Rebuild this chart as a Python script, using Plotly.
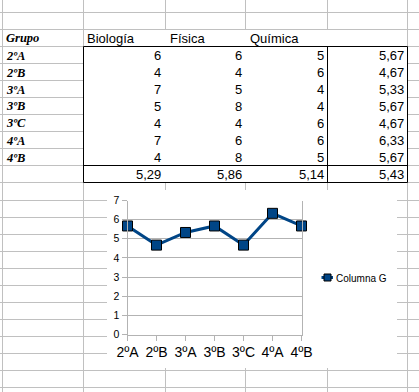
import plotly.graph_objects as go

# ---------------- data ----------------
grupos = ["2ºA", "2ºB", "3ºA", "3ºB", "3ºC", "4ºA", "4ºB"]
asignaturas = ["Biología", "Física", "Química"]
biologia = [6, 4, 7, 5, 4, 7, 4]
fisica = [6, 4, 5, 8, 4, 6, 8]
quimica = [5, 6, 4, 4, 6, 6, 5]
promedio_grupo = [5.67, 4.67, 5.33, 5.67, 4.67, 6.33, 5.67]
promedio_asig = [5.29, 5.86, 5.14]
promedio_total = 5.43
serie_nombre = "Columna G"
y_ticks = [0, 1, 2, 3, 4, 5, 6, 7]

# ---------------- geometry helpers ----------------
W, H = 419, 392
def px(x):
    return x / W
def py(y):
    return 1 - y / H

SANS = "Liberation Sans"
SERIF = "Liberation Serif"
GRID = "#c0c0c0"
BLUE = "#004586"

col_lines = [2.5, 83.5, 165.5, 245.5, 327.5, 407.5]
row_lines = [round(12.3 + 17.02 * k) + 0.5 for k in range(24)]

shapes = []
def line(x0, y0, x1, y1, color, width=1):
    shapes.append(dict(type="line", xref="paper", yref="paper",
                       x0=px(x0), y0=py(y0), x1=px(x1), y1=py(y1),
                       line=dict(color=color, width=width), layer="below"))
def rect(x0, y0, x1, y1, fill, lc=None, lw=0):
    shapes.append(dict(type="rect", xref="paper", yref="paper",
                       x0=px(x0), y0=py(y0), x1=px(x1), y1=py(y1),
                       fillcolor=fill, line=dict(color=lc or fill, width=lw),
                       layer="below"))

# spreadsheet grid
for x in col_lines:
    line(x, 0, x, H, GRID)
for y in row_lines:
    line(0, y, W, y, GRID)

# header row (no inner vertical lines) and table body
rect(84, 30, 407, 46, "white")
rect(83.5, 46.5, 407.5, 182.5, "white")
# table borders
line(83.5, 46.5, 407.5, 46.5, "black")
line(83.5, 182.5, 407.5, 182.5, "black")
line(83.5, 46.5, 83.5, 182.5, "black")
line(407.5, 46.5, 407.5, 182.5, "black")
line(327.5, 46.5, 327.5, 182.5, "black")
line(83.5, 165.5, 407.5, 165.5, "black")

# chart object background
rect(107, 190, 397, 368, "white")

annotations = []
def text(s, x, y, anchor="left", family=SANS, size=13):
    annotations.append(dict(text=s, xref="paper", yref="paper",
                            x=px(x), y=py(y), xanchor=anchor, yanchor="middle",
                            showarrow=False, font=dict(family=family, size=size, color="black")))

def fmt(v):
    if isinstance(v, int):
        return str(v)
    return f"{v:.2f}".replace(".", ",")

row_c = [(row_lines[k] + row_lines[k + 1]) / 2 + 0.5 for k in range(len(row_lines) - 1)]

# header row
text("<b><i>Grupo</i></b>", 4, row_c[1], family=SERIF, size=12.5)
col_left = [84.5, 167.5, 247.5]
for i, a in enumerate(asignaturas):
    text(a, col_left[i], row_c[1])

col_right = [163, 243.5, 325.5, 406]
for i, g in enumerate(grupos):
    yc = row_c[2 + i]
    text(f"<b><i>{g}</i></b>", 4, yc, family=SERIF, size=12.5)
    for j, serie in enumerate([biologia, fisica, quimica]):
        text(fmt(serie[i]), col_right[j], yc, anchor="right")
    text(fmt(promedio_grupo[i]), col_right[3], yc, anchor="right")

yc = row_c[9]
for j, v in enumerate(promedio_asig):
    text(fmt(v), col_right[j], yc, anchor="right")
text(fmt(promedio_total), col_right[3], yc, anchor="right")

# custom legend key
line(321.5, 277.5, 333, 277.5, BLUE, 3)
rect(324, 274, 331, 281, BLUE, "black", 1)
text(serie_nombre, 334, 278, size=10)

fig = go.Figure()
fig.add_trace(go.Scatter(
    x=grupos, y=promedio_grupo, name=serie_nombre,
    mode="lines+markers",
    line=dict(color=BLUE, width=3),
    marker=dict(symbol="square", size=10, color=BLUE, line=dict(color="black", width=1)),
    cliponaxis=False, showlegend=False,
))

AX = "#b3b3b3"
fig.update_layout(
    template="none",
    width=W, height=H, autosize=False,
    margin=dict(l=0, r=0, t=0, b=0, pad=0, autoexpand=False),
    paper_bgcolor="white", plot_bgcolor="rgba(0,0,0,0)",
    showlegend=False,
    shapes=shapes, annotations=annotations,
    xaxis=dict(domain=[px(127.5), px(301.5)], type="category", range=[0, 6],
               automargin=False,
               ticks="outside", ticklen=5, tickcolor=AX, showgrid=False,
               showline=True, linecolor=AX, linewidth=1, zeroline=False,
               tickfont=dict(family=SANS, size=14, color="black")),
    yaxis=dict(domain=[py(334.5), py(200.5)], range=[0, 7], tickvals=y_ticks,
               automargin=False,
               ticks="outside", ticklen=5, tickcolor=AX, showgrid=True, gridcolor=AX,
               gridwidth=1, showline=True, mirror=True, linecolor=AX, linewidth=1,
               zeroline=False,
               tickfont=dict(family=SANS, size=10.5, color="black")),
)

fig.write_html(
    "out.html",
    config={"displayModeBar": False},
    post_script="document.body.style.margin='0';document.body.style.padding='0';"
                "document.body.style.overflow='hidden';",
)
